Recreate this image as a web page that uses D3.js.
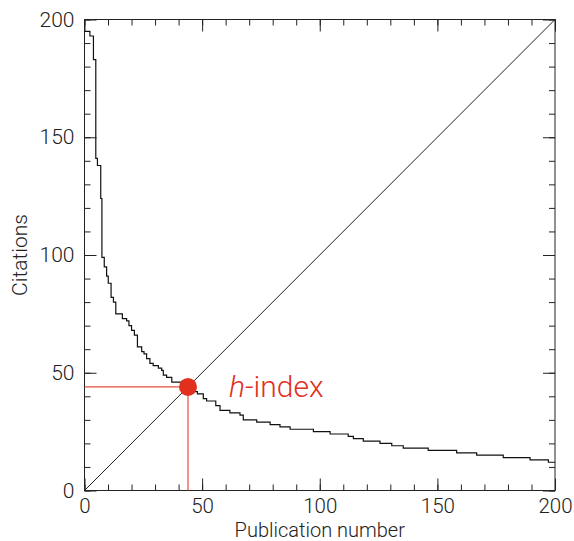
<!DOCTYPE html>
<html>
<head>
<meta charset="utf-8">
<script src="https://cdn.jsdelivr.net/npm/d3@7"></script>
<style>
  html, body { margin: 0; padding: 0; background: #fff; }
  svg { display: block; }
  text { font-family: Roboto, "Open Sans", sans-serif; font-weight: 300; fill: #222; }
</style>
</head>
<body>
<svg id="chart" width="574" height="541"></svg>
<script>
// Publication number where each citation level starts (papers ranked by citations)
const stepStart = [0, 2.3, 3.8, 4.8, 5.5, 6.9, 7.4, 8.4, 9.4, 10.1, 11.3, 12.3, 13.3, 16.1, 17.9, 18.9, 20, 21.2, 22.5, 24.3, 25.3, 26.4, 27.8, 29.2, 31.4, 32.8, 33.5, 34.9, 37.1, 41.3, 43, 45, 46.5, 48, 50.5, 51.9, 55.8, 57.6, 61.8, 66.1, 67.5, 73.2, 78.9, 83.1, 87.4, 97.3, 104.4, 112.1, 114.3, 118.5, 125.6, 130.6, 135.5, 146.1, 158.2, 166.7, 178, 189.4, 197.2];
// Citation count of that level
const citations = [195, 193, 183, 141, 138, 124, 99, 95, 91, 88, 82, 80, 75, 73, 72, 70, 68, 66, 61, 59, 58, 56, 54, 53, 52, 51, 49, 48, 46, 45, 44, 43, 42, 41, 39, 38, 36, 34, 33, 32, 30, 29, 28, 27, 26, 25, 24, 23, 22, 21, 20, 19, 18, 17, 16, 15, 14, 13, 12];
const hIndex = 44;
const xTicks = [0, 50, 100, 150, 200];
const yTicks = [0, 50, 100, 150, 200];
const minorTicks = d3.range(0, 201, 10);

const svg = d3.select("#chart");
const L = 84.5, R = 555, T = 19.5, B = 490.5;
const x = d3.scaleLinear().domain([0, 200]).range([L, R]);
const y = d3.scaleLinear().domain([0, 200]).range([B, T]);

const axisColor = "#222";
function styleAxis(g) {
  g.select(".domain").remove();
  g.selectAll(".tick line").attr("stroke", axisColor).attr("stroke-width", 1);
}

// minor ticks on all four sides (inward)
svg.append("g").attr("transform", `translate(0,${B})`)
  .call(d3.axisBottom(x).tickValues(minorTicks).tickSize(-6).tickFormat(""))
  .call(styleAxis);
svg.append("g").attr("transform", `translate(0,${T})`)
  .call(d3.axisTop(x).tickValues(minorTicks).tickSize(-6).tickFormat(""))
  .call(styleAxis);
svg.append("g").attr("transform", `translate(${L},0)`)
  .call(d3.axisLeft(y).tickValues(minorTicks).tickSize(-6).tickFormat(""))
  .call(styleAxis);
svg.append("g").attr("transform", `translate(${R},0)`)
  .call(d3.axisRight(y).tickValues(minorTicks).tickSize(-6).tickFormat(""))
  .call(styleAxis);

// major ticks with labels
const bx = svg.append("g").attr("transform", `translate(0,${B})`)
  .call(d3.axisBottom(x).tickValues(xTicks).tickSize(-12).tickPadding(8).tickFormat(d3.format("d")))
  .call(styleAxis);
bx.selectAll("text").attr("font-size", 20.5).attr("fill", "#222");
svg.append("g").attr("transform", `translate(0,${T})`)
  .call(d3.axisTop(x).tickValues(xTicks).tickSize(-12).tickFormat(""))
  .call(styleAxis);
const ly = svg.append("g").attr("transform", `translate(${L},0)`)
  .call(d3.axisLeft(y).tickValues(yTicks).tickSize(-12).tickPadding(10).tickFormat(d3.format("d")))
  .call(styleAxis);
ly.selectAll("text").attr("font-size", 21).attr("fill", "#222");
svg.append("g").attr("transform", `translate(${R},0)`)
  .call(d3.axisRight(y).tickValues(yTicks).tickSize(-12).tickFormat(""))
  .call(styleAxis);

// frame
svg.append("rect").attr("x", L).attr("y", T).attr("width", R - L).attr("height", B - T)
  .attr("fill", "none").attr("stroke", axisColor).attr("stroke-width", 1);

// diagonal y = x
svg.append("line")
  .attr("x1", x(0)).attr("y1", y(0)).attr("x2", x(200)).attr("y2", y(200))
  .attr("stroke", "#222").attr("stroke-width", 1);

// citation step curve
const pts = stepStart.map((s, i) => [s, citations[i]]);
pts.push([200, citations[citations.length - 1]]);
const line = d3.line().x(d => x(d[0])).y(d => y(d[1])).curve(d3.curveStepAfter);
svg.append("path").datum(pts).attr("d", line)
  .attr("fill", "none").attr("stroke", "#111").attr("stroke-width", 1.2);

// h-index guides
const red = "#e2301f";
svg.append("line")
  .attr("x1", x(0)).attr("y1", y(hIndex)).attr("x2", x(hIndex)).attr("y2", y(hIndex))
  .attr("stroke", red).attr("stroke-width", 1.2).attr("stroke-opacity", 0.85);
svg.append("line")
  .attr("x1", x(hIndex)).attr("y1", y(hIndex)).attr("x2", x(hIndex)).attr("y2", y(0))
  .attr("stroke", red).attr("stroke-width", 1.2).attr("stroke-opacity", 0.85);
svg.append("circle").attr("cx", x(hIndex)).attr("cy", y(hIndex)).attr("r", 9)
  .attr("fill", red);

const ht = svg.append("text").attr("x", x(hIndex) + 41).attr("y", y(hIndex) + 10)
  .attr("font-size", 30).style("fill", red);
ht.append("tspan").attr("font-style", "italic").text("h");
ht.append("tspan").text("-index");

// axis titles
svg.append("text").attr("x", (L + R) / 2).attr("y", 536.5)
  .attr("text-anchor", "middle").attr("font-size", 20).text("Publication number");
svg.append("text")
  .attr("transform", `translate(27,${(T + B) / 2}) rotate(-90)`)
  .attr("text-anchor", "middle").attr("font-size", 21).text("Citations");
</script>
</body>
</html>
